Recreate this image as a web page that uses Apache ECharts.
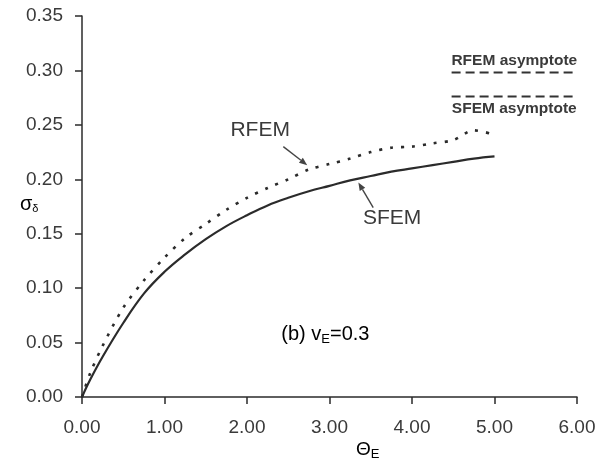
<!DOCTYPE html>
<html>
<head>
<meta charset="utf-8">
<script src="https://cdn.jsdelivr.net/npm/echarts@6/dist/echarts.min.js"></script>
<style>
  html, body { margin: 0; padding: 0; background: #fff; }
  #chart { width: 611px; height: 459px; }
</style>
</head>
<body>
<div id="chart"></div>
<script>
// Normalised elastic modulus Θ_E (x) against σ_δ (y)
var thetaE = [0, 0.1, 0.25, 0.5, 0.75, 1.0, 1.25, 1.5, 1.75, 2.0, 2.25, 2.5, 2.75, 3.0, 3.25, 3.5, 3.75, 4.0, 4.25, 4.5, 4.75, 5.0];
var sfem   = [0, 0.016, 0.037, 0.068, 0.095, 0.115, 0.131, 0.145, 0.157, 0.167, 0.176, 0.183, 0.189, 0.194, 0.199, 0.203, 0.207, 0.210, 0.213, 0.216, 0.219, 0.221];
var rfem   = [0, 0.022, 0.047, 0.082, 0.107, 0.128, 0.146, 0.159, 0.172, 0.183, 0.192, 0.200, 0.209, 0.214, 0.219, 0.225, 0.229, 0.230, 0.233, 0.236, 0.245, 0.241];

// Asymptotic values and the x-range over which they are drawn
var rfemAsymptote = 0.298;
var sfemAsymptote = 0.276;
var asymptoteSpan = [4.48, 6.0];

var xTicks = [0, 1, 2, 3, 4, 5, 6];
var yTicks = [0, 0.05, 0.10, 0.15, 0.20, 0.25, 0.30, 0.35];

function pairs(xs, ys) {
  return xs.map(function (x, i) { return [x, ys[i]]; });
}

var FONT = '"Liberation Sans", Arial, sans-serif';
var INK = '#2b2b2b';
var TEXT = '#3a3a3a';

var chart = echarts.init(document.getElementById('chart'), null, { renderer: 'canvas' });

var option = {
  backgroundColor: '#ffffff',
  animation: false,
  grid: { left: 82, right: 34, top: 16, bottom: 62, containLabel: false },
  xAxis: {
    type: 'value',
    min: xTicks[0], max: xTicks[xTicks.length - 1], interval: 1,
    axisLine: { show: true, onZero: false, lineStyle: { color: INK, width: 1.5 } },
    axisTick: { show: true, inside: false, length: 7, lineStyle: { color: INK, width: 1.5 } },
    axisLabel: { margin: 21, fontFamily: FONT, fontSize: 19, color: TEXT,
      formatter: function (v) { return v.toFixed(2); } },
    splitLine: { show: false }
  },
  yAxis: {
    type: 'value',
    min: yTicks[0], max: yTicks[yTicks.length - 1], interval: 0.05,
    axisLine: { show: true, onZero: false, lineStyle: { color: INK, width: 1.5 } },
    axisTick: { show: true, inside: false, length: 7, lineStyle: { color: INK, width: 1.5 } },
    axisLabel: { margin: 19, fontFamily: FONT, fontSize: 19, color: TEXT,
      formatter: function (v) { return v.toFixed(2); } },
    splitLine: { show: false }
  },
  series: [
    {
      name: 'SFEM', type: 'line', data: pairs(thetaE, sfem),
      showSymbol: false, smooth: 0.4,
      lineStyle: { color: INK, width: 2.2, type: 'solid' }
    },
    {
      name: 'RFEM', type: 'line', data: pairs(thetaE, rfem),
      showSymbol: false, smooth: 0.3,
      lineStyle: { color: INK, width: 2.6, type: [3, 8] }
    },
    {
      name: 'RFEM asymptote', type: 'line',
      data: [[asymptoteSpan[0], rfemAsymptote], [asymptoteSpan[1], rfemAsymptote]],
      showSymbol: false,
      lineStyle: { color: '#333', width: 2, type: [9, 5] }
    },
    {
      name: 'SFEM asymptote', type: 'line',
      data: [[asymptoteSpan[0], sfemAsymptote], [asymptoteSpan[1], sfemAsymptote]],
      showSymbol: false,
      lineStyle: { color: '#333', width: 2, type: [9, 5] }
    }
  ]
};

chart.setOption(option);

// Annotations (labels and pointer arrows), anchored in data space
function px(x, y) { return chart.convertToPixel({ gridIndex: 0 }, [x, y]); }

function arrow(from, to) {
  var a = px(from[0], from[1]);
  var b = px(to[0], to[1]);
  var ang = Math.atan2(b[1] - a[1], b[0] - a[0]);
  var len = 8, half = 3.2;
  var bx = b[0] - len * Math.cos(ang), by = b[1] - len * Math.sin(ang);
  var nx = -Math.sin(ang) * half, ny = Math.cos(ang) * half;
  return [
    { type: 'line', shape: { x1: a[0], y1: a[1], x2: bx, y2: by },
      style: { stroke: '#444', lineWidth: 1.4 } },
    { type: 'polygon', shape: { points: [[b[0], b[1]], [bx + nx, by + ny], [bx - nx, by - ny]] },
      style: { fill: '#444' } }
  ];
}

var pR = px(2.16, 0.245);
var pS = px(3.76, 0.164);
var pB = px(2.95, 0.057);
var pRA = px(5.24, 0.309);
var pSA = px(5.24, 0.265);
var pY = px(0, 0.177);
var pX = px(3.5, 0);

var graphics = [
  { type: 'text', x: pR[0], y: pR[1],
    style: { text: 'RFEM', font: '21px ' + FONT, fill: TEXT, align: 'center', verticalAlign: 'middle' } },
  { type: 'text', x: pS[0], y: pS[1],
    style: { text: 'SFEM', font: '21px ' + FONT, fill: TEXT, align: 'center', verticalAlign: 'middle' } },
  { type: 'text', x: pB[0], y: pB[1],
    style: { text: '{m|(b) v}{s|E}{m|=0.3}', align: 'center', verticalAlign: 'middle',
      rich: {
        m: { fontFamily: FONT, fontSize: 20, color: TEXT },
        s: { fontFamily: FONT, fontSize: 13, color: TEXT, padding: [9, 0, 0, 0] }
      } } },
  { type: 'text', x: pRA[0], y: pRA[1],
    style: { text: 'RFEM asymptote', font: 'bold 15.5px ' + FONT, fill: '#3a3a3a', align: 'center', verticalAlign: 'middle' } },
  { type: 'text', x: pSA[0], y: pSA[1],
    style: { text: 'SFEM asymptote', font: 'bold 15.5px ' + FONT, fill: '#3a3a3a', align: 'center', verticalAlign: 'middle' } },
  { type: 'text', x: pY[0] - 62, y: pY[1],
    style: { text: '{m|σ}{s|δ}', align: 'left', verticalAlign: 'middle',
      rich: {
        m: { fontFamily: FONT, fontSize: 20, color: TEXT },
        s: { fontFamily: FONT, fontSize: 11, color: TEXT, padding: [9, 0, 0, 0] }
      } } },
  { type: 'text', x: pX[0] - 3, y: pX[1] + 53,
    style: { text: '{m|Θ}{s|E}', align: 'center', verticalAlign: 'middle',
      rich: {
        m: { fontFamily: FONT, fontSize: 19, color: TEXT },
        s: { fontFamily: FONT, fontSize: 13, color: TEXT, padding: [9, 0, 0, 0] }
      } } }
];

graphics = graphics
  .concat(arrow([2.44, 0.230], [2.73, 0.213]))
  .concat(arrow([3.53, 0.174], [3.35, 0.197]));

chart.setOption({ graphic: graphics });
</script>
</body>
</html>
